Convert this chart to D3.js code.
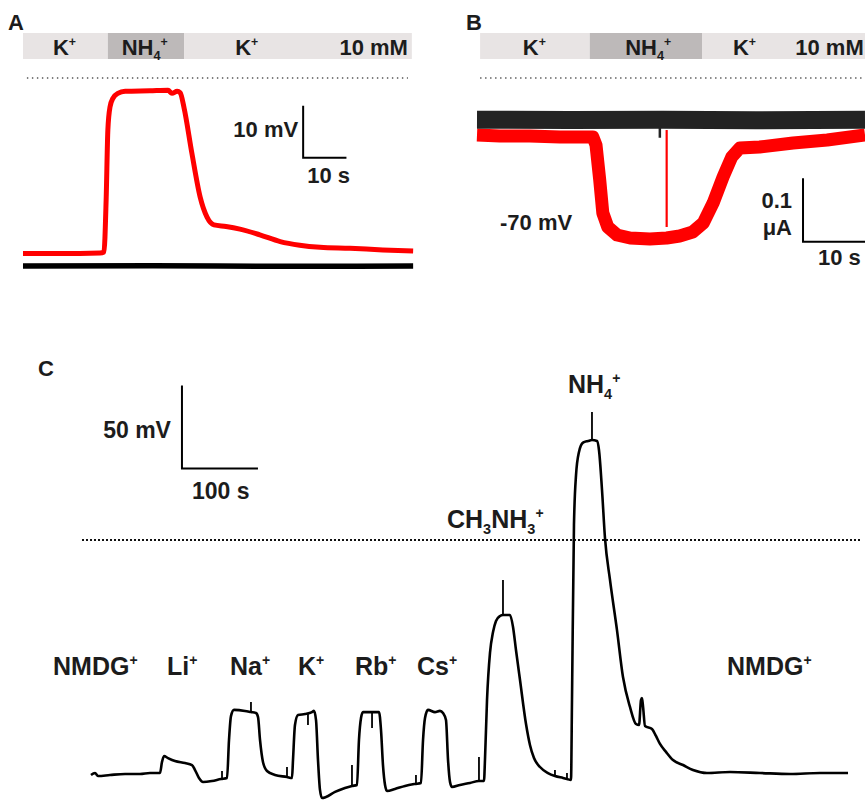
<!DOCTYPE html>
<html><head><meta charset="utf-8">
<script src="https://cdn.jsdelivr.net/npm/d3@7"></script>
<style>
body{margin:0;background:#fff}
svg{display:block}
text{font-family:"Liberation Sans",Arial,Helvetica,sans-serif;font-weight:bold;fill:#1c1c1c}
</style>
</head><body><svg id="fig" width="865" height="801"></svg>
<script>
// ---------------- Panel A : membrane potential (mV) vs time (s) ----------------
const aHeader = [
  {ion:[["K",0],["+",2]], from:0, to:19.6, dark:false, lx:6.9},
  {ion:[["NH",0],["4",1],["+",2]], from:19.6, to:37.2, dark:true, lx:22.8},
  {ion:[["K",0],["+",2]], from:37.2, to:89.8, dark:false, lx:49.0}
];
const aConc = "10 mM";
const aRed = [[0,2.4],[8.5,2.4],[17.8,2.5],[18.7,2.7],[19.2,12.7],[19.6,26.2],[20.1,30.6],[20.8,32.3],[21.9,33.2],[23.6,33.6],[29.3,33.7],[33.5,33.8],[34.4,33.2],[35.6,33.6],[36.3,33.3],[37.2,30.4],[39.0,21.7],[40.9,13.3],[42.5,9.4],[44.1,7.9],[46.9,7.6],[50.1,7.1],[54.7,6.0],[59.4,4.7],[63.9,4.0],[68.6,3.6],[75.5,3.4],[83.1,3.1],[90.1,2.9]];
const aBlack = [[0,0],[30,0.05],[60,-0.05],[90.1,0]];
const aScale = {t:64.7, v:20.8, dv:10, dt:10, vLabel:"10 mV", tLabel:"10 s"};

// ---------------- Panel B : current (nA) vs time (s) at -70 mV ----------------
const bHeader = [
  {ion:[["K",0],["+",2]], from:0.5, to:18.2, dark:false, lx:7.4},
  {ion:[["NH",0],["4",1],["+",2]], from:18.2, to:36.3, dark:true, lx:23.9},
  {ion:[["K",0],["+",2]], from:36.3, to:62.6, dark:false, lx:41.3}
];
const bConc = "10 mM";
const bRed = [[0,-23.7],[3.7,-25.2],[8.5,-25.2],[13.4,-26.8],[18.7,-26.8],[19.2,-39.4],[19.8,-94.6],[20.3,-146.7],[21.1,-168.8],[22.6,-181.4],[24.7,-186.1],[27.9,-187.7],[30.6,-186.1],[32.7,-183.0],[34.8,-176.7],[36.5,-162.5],[38.1,-130.9],[39.7,-89.9],[41.1,-58.4],[42.4,-44.2],[45.6,-42.6],[51.0,-36.3],[56.5,-31.5],[62.6,-23.7]];
const bRedSpike = [30.6, -15.8, -168.8];
const bBlack = [[0,0.5],[15,0],[30,0.3],[45,-0.3],[62.6,0.4]];
const bBlackSpike = [29.5, -10, -28];
const bScale = {t:52.6, i:-192, di:100, dt:10, iLabel:["0.1","\u03bcA"], tLabel:"10 s"};
const bHold = "-70 mV";

// ---------------- Panel C : depolarisation (mV) vs time (s), cation series ----------------
const cTrace = [[1.3,-0.6],[6.6,0.6],[10.5,-1.2],[26.3,-0.6],[46.1,0],[65.8,0],[78.9,0.6],[92.1,0.6],[94.7,7.2],[97.4,10.8],[102.6,9.6],[111.8,7.8],[125.0,6.6],[134.2,5.4],[138.2,2.4],[143.4,-2.4],[148.7,-4.8],[160.5,-4.2],[172.4,-3.0],[180.3,-2.4],[182.9,20.5],[185.5,34.9],[189.5,38.6],[203.9,38.0],[211.8,37.3],[218.4,36.7],[221.1,34.3],[223.7,20.5],[227.6,7.2],[232.9,1.8],[243.4,-0.6],[259.2,-1.8],[265.8,-2.4],[267.1,8.4],[269.7,29.5],[273.7,35.5],[282.9,36.1],[292.1,37.3],[294.7,38.0],[297.4,32.5],[300.0,8.4],[302.6,-9.6],[305.3,-14.5],[310.5,-13.9],[322.4,-10.8],[335.5,-8.4],[344.7,-7.2],[351.3,-6.6],[353.9,20.5],[356.6,33.7],[359.2,37.3],[371.1,37.3],[380.3,37.3],[382.9,26.5],[385.5,5.4],[388.2,-6.6],[390.8,-10.2],[401.3,-9.0],[414.5,-7.2],[427.6,-6.0],[435.5,-5.4],[438.2,20.5],[440.8,33.7],[444.7,38.6],[453.9,37.3],[460.5,38.0],[464.5,36.7],[468.4,32.5],[471.1,8.4],[473.7,-4.8],[476.3,-7.8],[486.8,-6.6],[500.0,-5.4],[511.8,-4.2],[518.4,-4.2],[519.7,8.4],[522.4,44.6],[526.3,72.9],[530.3,85.5],[534.2,92.2],[539.5,95.2],[543.4,95.8],[552.6,95.8],[556.6,88.6],[560.5,74.7],[565.8,56.6],[573.7,30.1],[578.9,17.5],[584.2,9.6],[592.1,4.2],[602.6,0.6],[611.8,-1.2],[622.4,-2.4],[627.6,-3.0],[632.9,-3.6],[634.2,44.6],[636.8,150.0],[639.5,180.0],[643.4,194.0],[648.7,199.6],[655.3,200.6],[660.5,201.2],[667.1,200.6],[669.7,195.2],[673.7,171.1],[677.6,142.2],[684.2,116.9],[693.4,86.7],[701.3,58.4],[710.5,40.4],[718.4,30.1],[722.4,29.5],[725.0,44.6],[726.3,45.8],[727.6,41.0],[730.3,28.9],[739.5,27.1],[744.7,22.9],[750.0,18.1],[757.9,13.3],[767.1,8.4],[780.3,5.4],[793.4,2.4],[811.8,0.6],[842.1,1.2],[881.6,0.6],[921.1,0],[960.5,0.6],[997.4,0.6]];
// solution-change artefacts: [time, base, tip]
const cSpikes = [[173.7,-3.0,1.8],[211.8,38.0,43.4],[259.2,-1.8,4.2],[286.8,36.1,29.5],[344.7,-7.2,5.4],[371.1,37.3,27.7],[428.9,-6.0,-0.6],[511.8,-4.2,10.2],[543.4,95.8,116.9],[611.8,-1.2,2.4],[627.6,-3.0,0.6],[660.5,201.2,218.1]];
const cRef = 141;            // dotted reference level (mV above baseline)
const cLabels = [
  {parts:[["NMDG",0],["+",2]], x:53,  y:675},
  {parts:[["Li",0],["+",2]], x:167, y:675},
  {parts:[["Na",0],["+",2]], x:230, y:675},
  {parts:[["K",0],["+",2]], x:298, y:675},
  {parts:[["Rb",0],["+",2]], x:355, y:675},
  {parts:[["Cs",0],["+",2]], x:417, y:675},
  {parts:[["CH",0],["3",1],["NH",0],["3",1],["+",2]], x:447, y:528},
  {parts:[["NH",0],["4",1],["+",2]], x:568, y:393},
  {parts:[["NMDG",0],["+",2]], x:727, y:675}
];
const cScale = {t:121, v:184, dv:50, dt:100, vLabel:"50 mV", tLabel:"100 s"};

// ======================================================================
const svg = d3.select("#fig");

function ionText(g, x, y, parts, size, anchor){
  const t = g.append("text").attr("x", x).attr("y", y)
    .style("font-size", size+"px").attr("text-anchor", anchor||"start");
  let off = 0;
  parts.forEach(([s, k]) => {
    let target = 0, fs = size;
    if (k === 1){ target = 0.24*size; fs = 0.58*size; }
    if (k === 2){ target = -0.42*size; fs = 0.56*size; }
    t.append("tspan").attr("dy", target - off).style("font-size", fs+"px").text(s);
    off = target;
  });
  return t;
}
function panelLetter(x, y, s){
  svg.append("text").attr("x", x).attr("y", y).style("font-size","22px").text(s);
}
const lineG = d3.line().x(d=>d[0]).y(d=>d[1]);

// ---------- Panel A ----------
{
  const x = d3.scaleLinear().domain([0,90]).range([23,412.7]);
  const y = d3.scaleLinear().domain([0,10]).range([266,214]);
  const g = svg.append("g");
  panelLetter(8, 30, "A");
  g.selectAll("rect.h").data(aHeader).join("rect")
    .attr("x", d=>x(d.from)).attr("width", d=>x(d.to)-x(d.from))
    .attr("y", 33).attr("height", 26)
    .attr("fill", d=>d.dark ? "#bdb9b9" : "#e8e4e4");
  aHeader.forEach(d => ionText(g, x(d.lx), 55, d.ion, 22));
  g.append("text").attr("x", x(88.9)).attr("y", 55).attr("text-anchor","end")
    .style("font-size","22px").text(aConc);
  g.append("line").attr("x1", x(0.9)).attr("x2", x(88.9)).attr("y1",78).attr("y2",78)
    .attr("stroke","#555").attr("stroke-width",1.6).attr("stroke-dasharray","1.4,3.6");
  const l = d3.line().x(d=>x(d[0])).y(d=>y(d[1])).curve(d3.curveMonotoneX);
  g.append("path").attr("d", l(aBlack)).attr("fill","none").attr("stroke","#000").attr("stroke-width",5.5);
  g.append("path").attr("d", l(aRed)).attr("fill","none").attr("stroke","#ff0000").attr("stroke-width",5).attr("stroke-linejoin","round");
  const sx = x(aScale.t), sy0 = y(aScale.v), sy1 = y(aScale.v+aScale.dv), sx1 = x(aScale.t+aScale.dt);
  g.append("path").attr("d", lineG([[sx,sy1],[sx,sy0],[sx1,sy0]])).attr("fill","none").attr("stroke","#000").attr("stroke-width",2);
  g.append("text").attr("x", sx-5).attr("y", 137).attr("text-anchor","end").style("font-size","22px").text(aScale.vLabel);
  g.append("text").attr("x", sx+4).attr("y", 183).style("font-size","22px").text(aScale.tLabel);
}

// ---------- Panel B ----------
{
  const x = d3.scaleLinear().domain([0,62.6]).range([477,865]);
  const y = d3.scaleLinear().domain([0,-100]).range([120,183.4]);
  const g = svg.append("g");
  panelLetter(466, 30, "B");
  g.selectAll("rect.h").data(bHeader).join("rect")
    .attr("x", d=>x(d.from)).attr("width", d=>x(d.to)-x(d.from))
    .attr("y", 33).attr("height", 26)
    .attr("fill", d=>d.dark ? "#bdb9b9" : "#e8e4e4");
  bHeader.forEach(d => ionText(g, x(d.lx), 55, d.ion, 22));
  g.append("text").attr("x", x(62.4)).attr("y", 55).attr("text-anchor","end")
    .style("font-size","22px").text(bConc);
  g.append("line").attr("x1", x(0.5)).attr("x2", x(62.6)).attr("y1",78).attr("y2",78)
    .attr("stroke","#555").attr("stroke-width",1.6).attr("stroke-dasharray","1.4,3.6");
  const l = d3.line().x(d=>x(d[0])).y(d=>y(d[1]));
  g.append("path").attr("d", l(bRed)).attr("fill","none").attr("stroke","#ff0000").attr("stroke-width",13).attr("stroke-linejoin","round");
  g.append("line").attr("x1", x(bRedSpike[0])).attr("x2", x(bRedSpike[0]))
    .attr("y1", y(bRedSpike[1])).attr("y2", y(bRedSpike[2])).attr("stroke","#ff0000").attr("stroke-width",2.2);
  g.append("path").attr("d", l(bBlack)).attr("fill","none").attr("stroke","#232323").attr("stroke-width",18);
  g.append("line").attr("x1", x(bBlackSpike[0])).attr("x2", x(bBlackSpike[0]))
    .attr("y1", y(bBlackSpike[1])).attr("y2", y(bBlackSpike[2])).attr("stroke","#232323").attr("stroke-width",2.5);
  const sx = x(bScale.t), sy0 = y(bScale.i), sy1 = y(bScale.i+bScale.di), sx1 = x(bScale.t+bScale.dt);
  g.append("path").attr("d", lineG([[sx,sy1],[sx,sy0],[sx1,sy0]])).attr("fill","none").attr("stroke","#000").attr("stroke-width",2);
  g.append("text").attr("x", sx-11).attr("y", 208).attr("text-anchor","end").style("font-size","22px").text(bScale.iLabel[0]);
  g.append("text").attr("x", sx-11).attr("y", 235).attr("text-anchor","end").style("font-size","22px").text(bScale.iLabel[1]);
  g.append("text").attr("x", sx+15).attr("y", 265).style("font-size","22px").text(bScale.tLabel);
  g.append("text").attr("x", 500).attr("y", 230).style("font-size","22px").text(bHold);
}

// ---------- Panel C ----------
{
  const x = d3.scaleLinear().domain([0,1000]).range([90,850]);
  const y = d3.scaleLinear().domain([0,100]).range([774,608]);
  const g = svg.append("g");
  panelLetter(38, 376, "C");
  g.append("line").attr("x1", 82).attr("x2", 860).attr("y1", y(cRef)).attr("y2", y(cRef))
    .attr("stroke","#111").attr("stroke-width",2).attr("stroke-dasharray","2,2");
  const l = d3.line().x(d=>x(d[0])).y(d=>y(d[1])).curve(d3.curveMonotoneX);
  g.append("path").attr("d", l(cTrace)).attr("fill","none").attr("stroke","#000")
    .attr("stroke-width",2.6).attr("stroke-linejoin","round");
  g.selectAll("line.sp").data(cSpikes).join("line")
    .attr("x1", d=>x(d[0])).attr("x2", d=>x(d[0]))
    .attr("y1", d=>y(d[1])).attr("y2", d=>y(d[2]))
    .attr("stroke","#000").attr("stroke-width",1.8);
  cLabels.forEach(d => ionText(g, d.x, d.y, d.parts, 25));
  const sx = x(cScale.t), sy0 = y(cScale.v), sy1 = y(cScale.v+cScale.dv), sx1 = x(cScale.t+cScale.dt);
  g.append("path").attr("d", lineG([[sx,sy1],[sx,sy0],[sx1,sy0]])).attr("fill","none").attr("stroke","#000").attr("stroke-width",2);
  g.append("text").attr("x", sx-11).attr("y", 438).attr("text-anchor","end").style("font-size","23px").text(cScale.vLabel);
  g.append("text").attr("x", sx+10).attr("y", 499).style("font-size","23px").text(cScale.tLabel);
}
</script>
</body></html>
